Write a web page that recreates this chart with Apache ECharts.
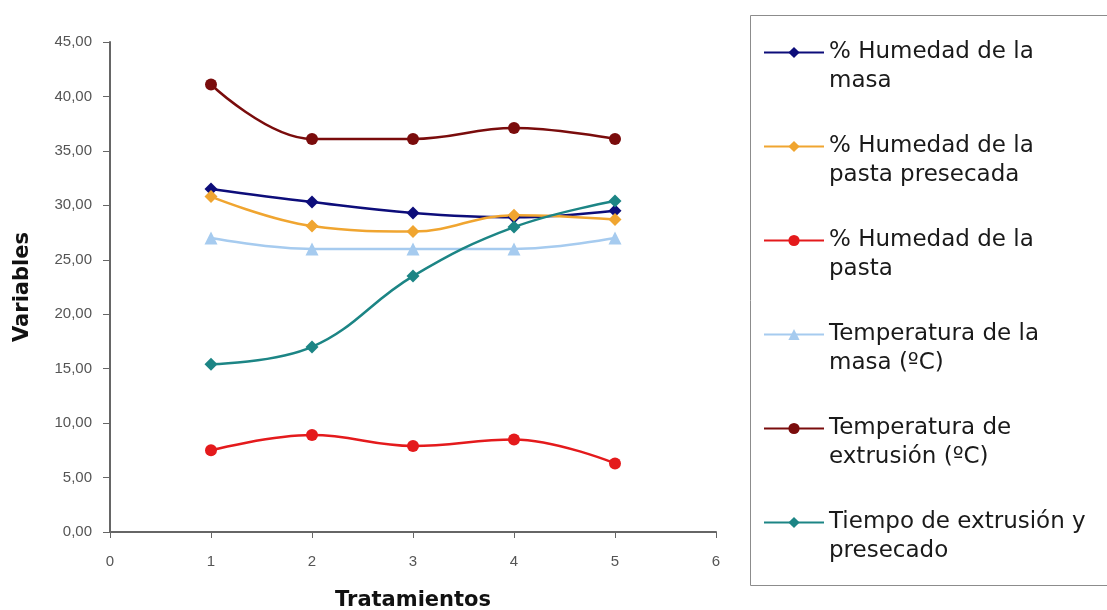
<!DOCTYPE html>
<html>
<head>
<meta charset="utf-8">
<script src="https://cdn.jsdelivr.net/npm/echarts@6/dist/echarts.min.js"></script>
<style>
  html, body { margin: 0; padding: 0; background: #fff; }
  #chart { width: 1107px; height: 610px; }
</style>
</head>
<body>
<div id="chart"></div>
<script>
// Treatments on the x axis
const tratamientos = [1, 2, 3, 4, 5];

// Series values, one per treatment
const humedadMasa = [31.5, 30.3, 29.3, 28.9, 29.5];
const humedadPastaPresecada = [30.8, 28.1, 27.6, 29.1, 28.7];
const humedadPasta = [7.5, 8.9, 7.9, 8.5, 6.3];
const temperaturaMasa = [27.0, 26.0, 26.0, 26.0, 27.0];
const temperaturaExtrusion = [41.1, 36.1, 36.1, 37.1, 36.1];
const tiempoExtrusion = [15.4, 17.0, 23.5, 28.0, 30.4];

// Legend labels (wrapped onto two lines)
const seriesNames = [
  '% Humedad de la\nmasa',
  '% Humedad de la\npasta presecada',
  '% Humedad de la\npasta',
  'Temperatura de la\nmasa (ºC)',
  'Temperatura de\nextrusión (ºC)',
  'Tiempo de extrusión y\npresecado'
];

const seriesValues = [humedadMasa, humedadPastaPresecada, humedadPasta,
  temperaturaMasa, temperaturaExtrusion, tiempoExtrusion];
const colors = ['#0d0d7a', '#f0a530', '#e41a1c', '#a6cbef', '#7a0c0c', '#1c8585'];
const symbols = ['diamond', 'diamond', 'circle', 'triangle', 'circle', 'diamond'];
const symbolSizes = [13, 13, 12, 13, 12, 13];

const fmt = v => v.toFixed(2).replace('.', ',');

const chart = echarts.init(document.getElementById('chart'));
chart.setOption({
  animation: false,
  backgroundColor: '#ffffff',
  grid: {
    left: 110, right: 391, top: 42, bottom: 78,
    containLabel: false, outerBoundsMode: 'none'
  },
  xAxis: {
    type: 'value', min: 0, max: 6, interval: 1,
    name: 'Tratamientos', nameLocation: 'middle', nameGap: 58,
    nameTextStyle: { fontFamily: 'DejaVu Sans', fontWeight: 'bold', fontSize: 21, color: '#111' },
    axisLine: { lineStyle: { color: '#666', width: 2 } },
    axisTick: { show: true, length: 6, lineStyle: { color: '#666', width: 1 } },
    axisLabel: { fontFamily: 'Liberation Sans', fontSize: 15, color: '#555', margin: 22 },
    splitLine: { show: false }
  },
  yAxis: {
    type: 'value', min: 0, max: 45, interval: 5,
    name: 'Variables', nameLocation: 'middle', nameGap: 77,
    nameTextStyle: { fontFamily: 'DejaVu Sans', fontWeight: 'bold', fontSize: 21, color: '#111' },
    axisLine: { show: true, lineStyle: { color: '#666', width: 2 } },
    axisTick: { show: true, length: 7, lineStyle: { color: '#666', width: 1 } },
    axisLabel: { fontFamily: 'Liberation Sans', fontSize: 15, color: '#555', margin: 18, formatter: fmt },
    splitLine: { show: false }
  },
  // frame around the legend
  graphic: [{
    type: 'rect',
    shape: { x: 750.5, y: 15.5, width: 420, height: 570 },
    style: { fill: 'none', stroke: '#8c8c8c', lineWidth: 1 },
    silent: true
  }],
  legend: {
    orient: 'vertical',
    left: 763, top: 9,
    padding: 0,
    itemGap: 7,
    itemWidth: 60, itemHeight: 14,
    data: seriesNames,
    // leading blank line puts the icon level with the first text line
    formatter: n => '\n' + n,
    textStyle: {
      fontFamily: 'DejaVu Sans', fontSize: 23, color: '#1a1a1a',
      lineHeight: 29
    }
  },
  series: seriesNames.map((name, i) => ({
    name,
    type: 'line',
    smooth: 0.4,
    symbol: symbols[i],
    symbolSize: symbolSizes[i],
    data: tratamientos.map((t, j) => [t, seriesValues[i][j]]),
    lineStyle: { color: colors[i], width: 2.5 },
    itemStyle: { color: colors[i] }
  }))
});
</script>
</body>
</html>
